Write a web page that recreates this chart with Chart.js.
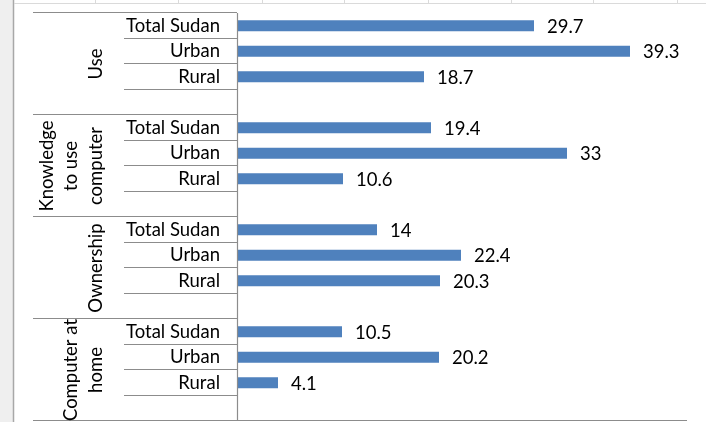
<!DOCTYPE html>
<html>
<head>
<meta charset="utf-8">
<script src="https://cdn.jsdelivr.net/npm/chart.js@4/dist/chart.umd.min.js"></script>
<style>
  html, body { margin: 0; padding: 0; background: #ffffff; }
  #wrap { width: 706px; height: 422px; }
</style>
</head>
<body>
<div id="wrap"><canvas id="c" width="706" height="422"></canvas></div>
<script>
// ---- data ----
const groupLabels = [['Use'], ['Knowledge', 'to use', 'computer'], ['Ownership'], ['Computer at', 'home']];
const subLabels = ['Total Sudan', 'Urban', 'Rural'];
const totalSudan = [29.7, 19.4, 14, 10.5];
const urban = [39.3, 33, 22.4, 20.2];
const rural = [18.7, 10.6, 20.3, 4.1];
const xMax = 45;

// build the 16-row category list (3 bars + 1 empty row per group)
const labels = [];
const values = [];
groupLabels.forEach((g, i) => {
  labels.push(subLabels[0], subLabels[1], subLabels[2], '');
  values.push(totalSudan[i], urban[i], rural[i], null);
});

const FONT = 'Lato';
const FSIZE = 18.5;
const LINE = '#8c8c8c';

const backgroundPlugin = {
  id: 'sheetBackground',
  beforeDraw(chart) {
    const ctx = chart.ctx;
    ctx.save();
    ctx.fillStyle = '#ffffff';
    ctx.fillRect(0, 0, chart.width, chart.height);
    ctx.fillStyle = '#efefef';
    ctx.fillRect(0, 0, 13, chart.height);
    ctx.strokeStyle = '#a8a8a8';
    ctx.lineWidth = 1.5;
    ctx.beginPath();
    ctx.moveTo(13.5, 0); ctx.lineTo(13.5, chart.height);
    ctx.stroke();
    ctx.strokeStyle = '#dadada';
    ctx.lineWidth = 1;
    ctx.beginPath();
    ctx.moveTo(14, 3.5); ctx.lineTo(chart.width, 3.5);
    [95, 178, 262, 344, 428, 511, 593, 677].forEach(x => {
      ctx.moveTo(x + 0.5, 0); ctx.lineTo(x + 0.5, 3.5);
    });
    ctx.stroke();
    ctx.restore();
  }
};

const axisPlugin = {
  id: 'multiLevelAxis',
  afterDraw(chart) {
    const ctx = chart.ctx;
    const y = chart.scales.y;
    const area = chart.chartArea;
    const axisX = area.left;
    ctx.save();
    ctx.strokeStyle = LINE;
    ctx.lineWidth = 1.2;
    ctx.beginPath();
    for (let k = 0; k <= labels.length; k++) {
      const py = Math.round(y.getPixelForValue(k - 0.5)) - 0.5;
      const startX = (k % 4 === 0) ? 33 : 124;
      const endX = (k === labels.length) ? area.right : axisX;
      ctx.moveTo(startX, py); ctx.lineTo(endX, py);
    }
    ctx.moveTo(axisX + 0.5, y.getPixelForValue(-0.5));
    ctx.lineTo(axisX + 0.5, y.getPixelForValue(labels.length - 0.5));
    ctx.stroke();

    ctx.fillStyle = '#000000';
    ctx.font = FSIZE + 'px ' + FONT;
    ctx.textAlign = 'center';
    ctx.textBaseline = 'middle';
    groupLabels.forEach((lines, i) => {
      const top = y.getPixelForValue(i * 4 - 0.5);
      const bot = y.getPixelForValue(i * 4 + 3.5);
      const cy = (top + bot) / 2;
      const n = lines.length;
      lines.forEach((txt, j) => {
        const cx = 96 - (n - 1 - j) * 24.5;
        ctx.save();
        ctx.translate(cx, cy);
        ctx.rotate(-Math.PI / 2);
        ctx.fillText(txt, 0, 0);
        ctx.restore();
      });
    });

    const meta = chart.getDatasetMeta(0);
    ctx.textAlign = 'left';
    meta.data.forEach((bar, i) => {
      const v = values[i];
      if (v === null || v === undefined) return;
      ctx.fillText(String(v), bar.x + 13, bar.y + 1);
    });
    ctx.restore();
  }
};

new Chart(document.getElementById('c'), {
  type: 'bar',
  data: {
    labels: labels,
    datasets: [{
      data: values,
      backgroundColor: '#4f81bd',
      borderWidth: 0,
      categoryPercentage: 1,
      barPercentage: 0.44
    }]
  },
  options: {
    indexAxis: 'y',
    responsive: false,
    animation: false,
    devicePixelRatio: 1,
    layout: { padding: { left: 0, top: 13, right: 19, bottom: 1 } },
    plugins: { legend: { display: false }, tooltip: { enabled: false } },
    scales: {
      x: { display: false, min: 0, max: xMax },
      y: {
        afterFit(scale) { scale.width = 237; scale.paddingTop = 0; scale.paddingBottom = 0; },
        grid: { display: false, drawTicks: false },
        border: { display: false },
        ticks: {
          color: '#000000',
          font: { family: FONT, size: FSIZE },
          padding: 17,
          autoSkip: false
        }
      }
    }
  },
  plugins: [backgroundPlugin, axisPlugin]
});
</script>
</body>
</html>
